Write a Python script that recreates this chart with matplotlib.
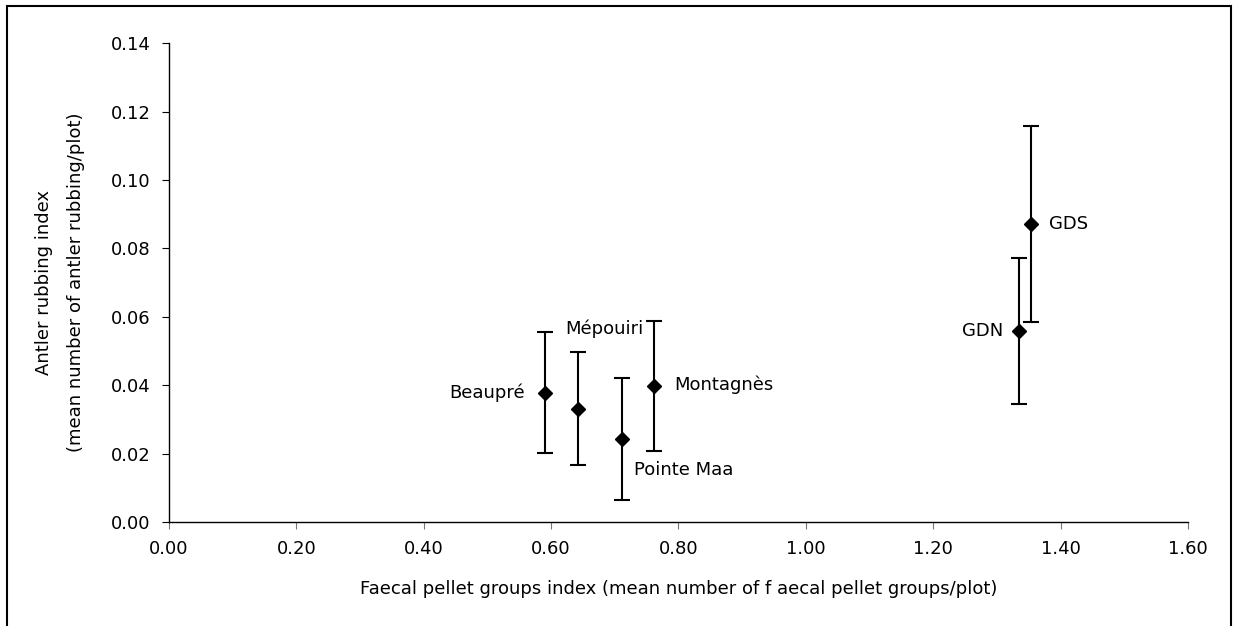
import matplotlib.pyplot as plt
from matplotlib.patches import Rectangle

plt.rcParams['font.family'] = ['DejaVu Sans']

sites = ["Beaupré", "Mépouiri", "Pointe Maa", "Montagnès", "GDN", "GDS"]
pellet_index = [0.590, 0.642, 0.711, 0.761, 1.334, 1.353]
rubbing_index = [0.0378, 0.0331, 0.0243, 0.0398, 0.0558, 0.0871]
rubbing_err = [0.0177, 0.0165, 0.0178, 0.0190, 0.0213, 0.0286]

# label offsets in points (dx, dy) and alignment
label_pos = {
    "Beaupré": (-14, 0, "right", "center"),
    "Mépouiri": (19, 58, "center", "center"),
    "Pointe Maa": (9, -22, "left", "center"),
    "Montagnès": (15, 1, "left", "center"),
    "GDN": (-11, 0, "right", "center"),
    "GDS": (13, 0, "left", "center"),
}

FS = 13

fig = plt.figure(figsize=(12.33, 6.26), dpi=100)
ax = fig.add_axes([0.137, 0.166, 0.8265, 0.765])

ax.errorbar(pellet_index, rubbing_index, yerr=rubbing_err, fmt="D",
            color="black", markersize=7, elinewidth=1.5, capsize=5.5,
            capthick=1.5, ecolor="black")

for name, x, y in zip(sites, pellet_index, rubbing_index):
    dx, dy, ha, va = label_pos[name]
    ax.annotate(name, (x, y), xytext=(dx, dy), textcoords="offset points",
                ha=ha, va=va, fontsize=FS)

ax.set_xlim(0, 1.6)
ax.set_ylim(0, 0.14)
ax.set_xticks([i * 0.2 for i in range(9)])
ax.set_yticks([i * 0.02 for i in range(8)])
ax.xaxis.set_major_formatter(plt.FuncFormatter(lambda v, p: f"{v:.2f}"))
ax.yaxis.set_major_formatter(plt.FuncFormatter(lambda v, p: f"{v:.2f}"))
ax.tick_params(axis="both", direction="out", length=5, labelsize=FS, pad=8)
ax.tick_params(axis="x", color="#777777")
for s in ["top", "right"]:
    ax.spines[s].set_visible(False)
for s in ["left", "bottom"]:
    ax.spines[s].set_linewidth(1.0)

ax.set_xlabel("Faecal pellet groups index (mean number of f aecal pellet groups/plot)",
              fontsize=FS, labelpad=16)
ax.set_ylabel("Antler rubbing index\n(mean number of antler rubbing/plot)",
              fontsize=FS, labelpad=19, linespacing=2.0)

# outer frame
fig.patches.append(Rectangle((0.006, -0.05), 0.992, 1.04, transform=fig.transFigure,
                             fill=False, edgecolor="black", linewidth=1.5))

fig.savefig("out.png", dpi=100)
